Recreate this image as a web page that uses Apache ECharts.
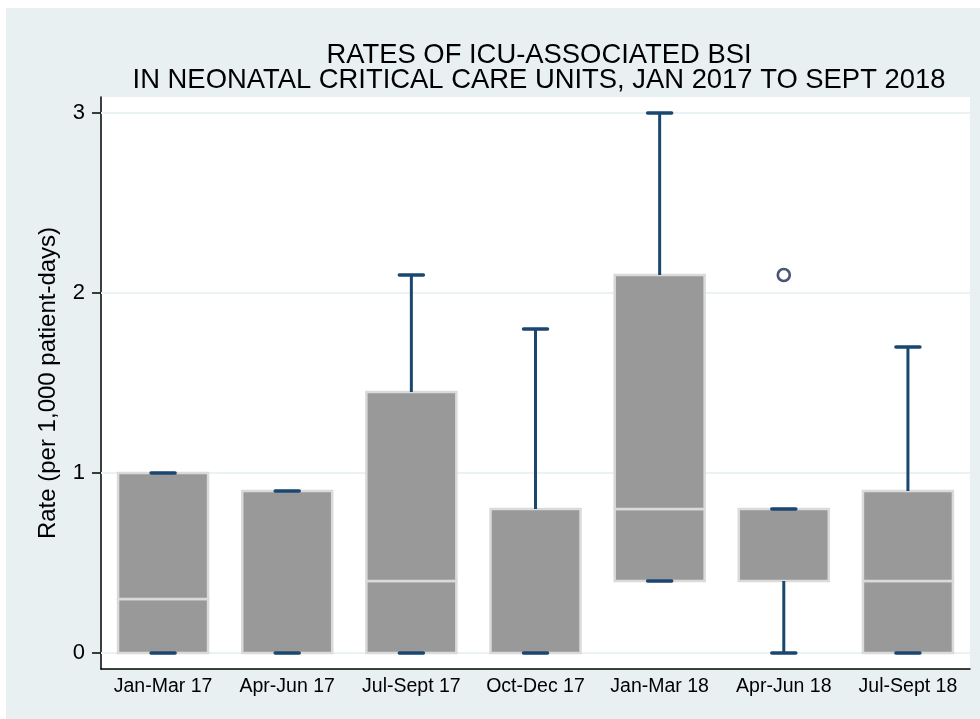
<!DOCTYPE html>
<html>
<head>
<meta charset="utf-8">
<script src="https://cdn.jsdelivr.net/npm/echarts@6/dist/echarts.min.js"></script>
<style>
html,body{margin:0;padding:0;background:#fff;}
#chart{width:980px;height:719px;}
</style>
</head>
<body>
<div id="chart"></div>
<script>
var categories = ['Jan-Mar 17','Apr-Jun 17','Jul-Sept 17','Oct-Dec 17','Jan-Mar 18','Apr-Jun 18','Jul-Sept 18'];
var mins    = [0,   0,   0,    0,   0.4, 0,   0];
var q1s     = [0,   0,   0,    0,   0.4, 0.4, 0];
var medians = [0.3, 0,   0.4,  0,   0.8, 0.8, 0.4];
var q3s     = [1.0, 0.9, 1.45, 0.8, 2.1, 0.8, 0.9];
var maxs    = [1.0, 0.9, 2.1,  1.8, 3.0, 0.8, 1.7];
var outlierCats = ['Apr-Jun 18'];
var outlierVals = [2.1];
var yTicks = [0, 1, 2, 3];

var FONT = '"Liberation Sans", Arial, sans-serif';
var NAVY = '#1a476f';

var boxData = categories.map(function(c, i){
  return [i, mins[i], q1s[i], medians[i], q3s[i], maxs[i]];
});

function renderBox(params, api){
  var i = api.value(0);
  var vMin = api.value(1), vQ1 = api.value(2), vMed = api.value(3), vQ3 = api.value(4), vMax = api.value(5);
  var band = api.size([1, 0])[0];
  var w = band * 0.725;
  var capW = 24;
  var cx = api.coord([i, 0])[0];
  var y = function(v){ return api.coord([i, v])[1]; };
  var children = [];
  var boxStyle = {fill:'#999999', stroke:'#dadada', lineWidth:2.5};
  if (vMed > vQ1) {
    children.push({type:'rect', shape:{x:cx - w/2, y:y(vMed), width:w, height:y(vQ1) - y(vMed)}, style:boxStyle});
  }
  if (vQ3 > vMed) {
    children.push({type:'rect', shape:{x:cx - w/2, y:y(vQ3), width:w, height:y(vMed) - y(vQ3)}, style:boxStyle});
  }
  var lineStyle = {stroke:NAVY, lineWidth:3};
  if (vMax > vQ3) {
    children.push({type:'line', shape:{x1:cx, y1:y(vQ3), x2:cx, y2:y(vMax)}, style:lineStyle});
  }
  if (vQ1 > vMin) {
    children.push({type:'line', shape:{x1:cx, y1:y(vQ1), x2:cx, y2:y(vMin)}, style:lineStyle});
  }
  var capStyle = {stroke:NAVY, lineWidth:3.5, lineCap:'round'};
  children.push({type:'line', shape:{x1:cx - capW/2, y1:y(vMax), x2:cx + capW/2, y2:y(vMax)}, style:capStyle});
  children.push({type:'line', shape:{x1:cx - capW/2, y1:y(vMin), x2:cx + capW/2, y2:y(vMin)}, style:capStyle});
  return {type:'group', children:children};
}

var chart = echarts.init(document.getElementById('chart'), null, {renderer:'canvas'});
var pad = 0.0889;
var option = {
  backgroundColor:'#ffffff',
  animation:false,
  graphic:[{
    type:'rect', z:-100, silent:true,
    shape:{x:6, y:8, width:974, height:711},
    style:{fill:'#e8f0f2'}
  }],
  title:{
    text:'RATES OF ICU-ASSOCIATED BSI\nIN NEONATAL CRITICAL CARE UNITS, JAN 2017 TO SEPT 2018',
    left:534, top:38, textAlign:'center',
    textStyle:{fontFamily:FONT, fontSize:27.4, fontWeight:'normal', color:'#000', lineHeight:25}
  },
  grid:{left:101, right:10, top:97, bottom:50, show:true, backgroundColor:'#ffffff', borderWidth:0},
  xAxis:{
    type:'category', data:categories, boundaryGap:true,
    axisLine:{show:true, onZero:false, lineStyle:{color:'#000', width:1.5}},
    axisTick:{show:false},
    axisLabel:{fontFamily:FONT, fontSize:19.5, color:'#000', margin:8, interval:0},
    splitLine:{show:false}
  },
  yAxis:{
    type:'value', min:-pad, max:3 + pad,
    name:'Rate (per 1,000 patient-days)', nameLocation:'middle', nameGap:41, nameRotate:90,
    nameTextStyle:{fontFamily:FONT, fontSize:24, color:'#000'},
    axisLine:{show:true, lineStyle:{color:'#000', width:1.5}},
    axisTick:{show:true, length:9, customValues:yTicks, lineStyle:{color:'#000', width:1.5}},
    axisLabel:{fontFamily:FONT, fontSize:22, color:'#000', margin:16, customValues:yTicks},
    splitLine:{show:false}
  },
  series:[
    {
      type:'custom', renderItem:renderBox, data:boxData,
      encode:{x:0, y:[1,2,3,4,5]}, z:3,
      markLine:{
        silent:true, symbol:['none','none'], label:{show:false},
        lineStyle:{color:'#eaf2f3', width:2, type:'solid'},
        data:yTicks.map(function(v){ return {yAxis:v}; }),
        z:1
      }
    },
    {
      type:'scatter', z:4,
      data:outlierCats.map(function(c, k){ return [c, outlierVals[k]]; }),
      symbol:'circle', symbolSize:12,
      itemStyle:{color:'#ffffff', borderColor:'#1c2a55', borderWidth:2.6}
    }
  ]
};
chart.setOption(option);
</script>
</body>
</html>
